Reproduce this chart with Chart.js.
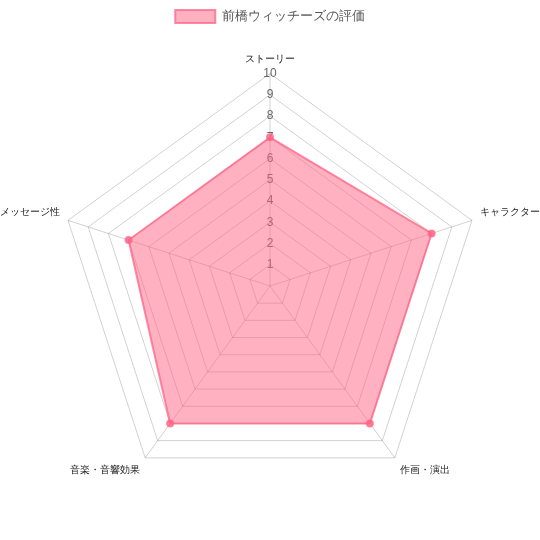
<!DOCTYPE html>
<html><head><meta charset="utf-8">
<script src="https://cdn.jsdelivr.net/npm/chart.js@4"></script>
<style>html,body{margin:0;padding:0;background:#fff}#wrap{width:540px;height:540px}</style>
</head><body><div id="wrap"><canvas id="c"></canvas></div>
<script>
const categories = ["ストーリー","キャラクター","作画・演出","音楽・音響効果","メッセージ性"];
const seriesName = "前橋ウィッチーズの評価";
const values = [7, 8, 8, 8, 7];
new Chart(document.getElementById('c'), {
  type: 'radar',
  data: {labels: categories, datasets: [{label: seriesName, data: values,
    backgroundColor: 'rgba(255,99,132,0.5)', borderColor: 'rgba(255,99,132,0.75)', borderWidth: 2,
    pointBackgroundColor: 'rgba(255,99,132,0.75)', pointBorderColor: 'rgba(255,99,132,0.75)', pointRadius: 3}]},
  options: {responsive: true, maintainAspectRatio: false, animation: false,
    layout: {padding: {bottom: 12}},
    plugins: {legend: {labels: {color: '#555', font: {size: 13}}}},
    scales: {r: {min: 0, max: 10,
      grid: {color: 'rgba(0,0,0,0.18)'},
      angleLines: {color: 'rgba(0,0,0,0.18)'},
      ticks: {stepSize: 1, showLabelBackdrop: false, color: '#666'},
      pointLabels: {padding: 0, color: '#222'}}}}
});
</script></body></html>
